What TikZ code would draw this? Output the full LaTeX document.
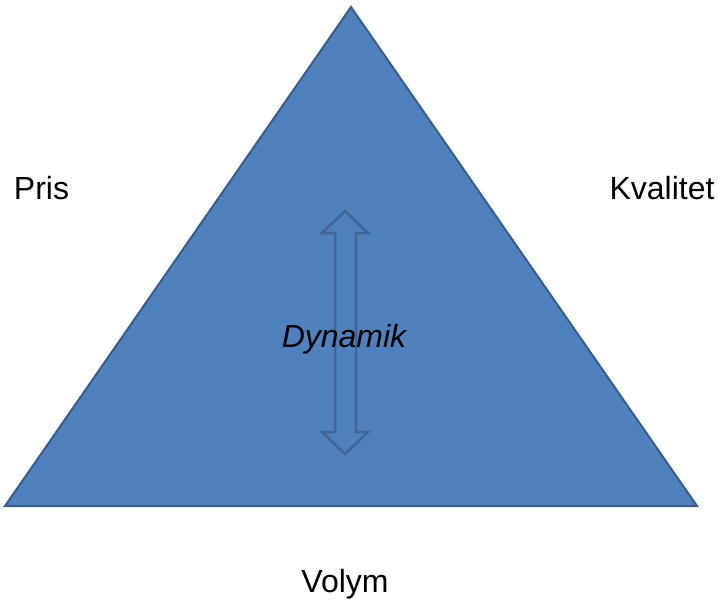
\documentclass[tikz,border=0pt]{standalone}
\usepackage{fontspec}
\setmainfont{Liberation Sans}
\definecolor{tfill}{HTML}{4F81BD}
\definecolor{tline}{HTML}{385D8A}
\definecolor{aline}{HTML}{41679A}
\begin{document}
\begin{tikzpicture}[x=1pt,y=-1pt,
  lbl/.style={anchor=base,inner sep=0pt,font=\fontsize{32}{38}\selectfont},
  tri/.style={fill=tfill,draw=tline,line width=2pt,line join=miter}]
\useasboundingbox (0,0) rectangle (718,600);
\coordinate (apex) at (351,7);
\coordinate (bl) at (5,506);
\coordinate (br) at (697,506);
\draw[tri] (apex) -- (br) -- (bl) -- cycle;
% double arrow
\draw[aline,line width=2.5pt,line join=miter]
  (345,211) -- (368,233) -- (356,233) -- (356,432) -- (368,432) -- (345,454)
  -- (322,432) -- (335,432) -- (335,233) -- (322,233) -- cycle;
\node[lbl] (pris) at (41.5,199) {Pris};
\node[lbl] (kval) at (662,199) {Kvalitet};
\node[lbl] (dyn) at (344,347) {\itshape Dynamik};
\node[lbl] (vol) at (345,592) {Volym};
\end{tikzpicture}
\end{document}
